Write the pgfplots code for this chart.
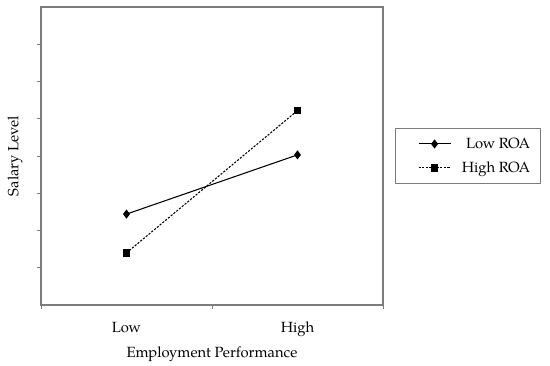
\documentclass[border=0pt]{standalone}
\usepackage{pgfplots}
\pgfplotsset{compat=1.18}
\usepackage{fontspec}
\setmainfont{TeX Gyre Pagella}
\definecolor{axgray}{RGB}{125,125,125}
\begin{document}
\begin{tikzpicture}[font=\fontsize{11.1}{13}\selectfont]
\begin{axis}[
  name=ax,
  scale only axis,
  width=256.5pt, height=223.5pt,
  xmin=0, xmax=2, ymin=0, ymax=8,
  xtick={0,1,2},
  xticklabels={Low,High},
  x tick label as interval,
  ytick={1,2,3,4,5,6,7},
  yticklabels={},
  xtick pos=bottom, ytick pos=left,
  tick align=outside,
  major tick length=3pt,
  tick style={axgray, line width=0.5pt},
  axis line style={axgray, line width=0.8pt},
  xticklabel style={anchor=base, yshift=-17.5pt},
  xlabel={Employment Performance},
  ylabel={Salary Level},
  every axis x label/.style={at={(rel axis cs:0.5,0)}, anchor=base, yshift=-39.2pt},
  every axis y label/.style={at={(rel axis cs:0,0.5)}, xshift=-17pt, rotate=90, anchor=base},
  clip=false,
  legend style={at={(1.035,0.594)}, anchor=north west, draw=axgray, line width=0.6pt,
    inner xsep=6pt, inner ysep=5pt, row sep=4.5pt, font=\fontsize{11.1}{13}\selectfont},
  legend cell align=right,
  legend image code/.code={\path (-11pt,0pt) (30pt,0pt); \draw[mark repeat=2,mark phase=2,#1] plot coordinates {(0pt,0pt) (12pt,0pt) (24pt,0pt)};},
]
\addplot[black, line width=0.8pt, mark=diamond*, mark size=2.8pt, mark options={solid}]
  coordinates {(0.5,2.44) (1.5,4.03)};
\addlegendentry{Low ROA}
\addplot[black, line width=0.8pt, dash pattern=on 1.6pt off 1.1pt, mark=square*, mark size=2.5pt, mark options={solid}]
  coordinates {(0.5,1.40) (1.5,5.22)};
\addlegendentry{High ROA}
\end{axis}
\pgfresetboundingbox
\path ([shift={(-30.75pt,-45.75pt)}]ax.south west) rectangle ([shift={(125.25pt,5.25pt)}]ax.north east);
\end{tikzpicture}
\end{document}
